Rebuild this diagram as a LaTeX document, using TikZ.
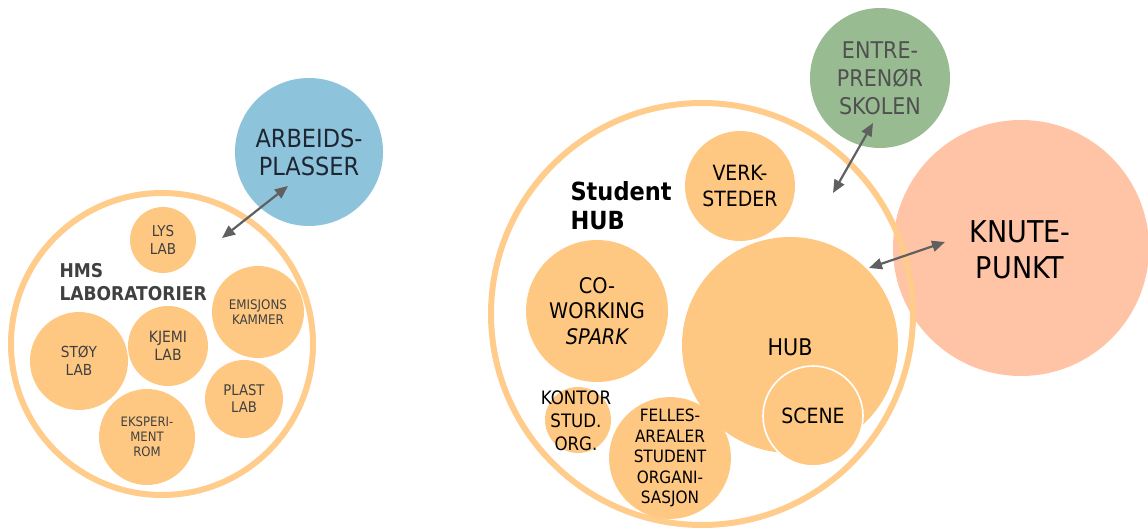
\documentclass[tikz,border=0pt]{standalone}
\usepackage{fontspec}
\setmainfont{DejaVu Sans Condensed}
\usetikzlibrary{arrows.meta}
\definecolor{orng}{RGB}{255,200,130}
\definecolor{ringc}{RGB}{255,204,140}
\definecolor{bluec}{RGB}{142,196,219}
\definecolor{greenc}{RGB}{152,187,146}
\definecolor{salmon}{RGB}{255,196,166}
\definecolor{arrc}{RGB}{96,96,96}
\definecolor{hmstxt}{RGB}{64,64,64}
\definecolor{navytxt}{RGB}{31,38,51}
\definecolor{grntxt}{RGB}{80,80,80}
\newcommand{\fs}[2]{\fontsize{#1}{#2}\selectfont}
\begin{document}
\begin{tikzpicture}[x=1pt,y=-1pt,
  bub/.style={circle, fill=orng, inner sep=0pt, minimum size=#1, align=center},
  ringnode/.style={circle, draw=ringc, line width=6pt, inner sep=0pt, minimum size=#1},
  hmst/.style={text=hmstxt},
  link/.style={draw=arrc, line width=2.2pt, {Triangle[length=13pt,width=11pt]}-{Triangle[length=13pt,width=11pt]}}
]
\useasboundingbox (0,0) rectangle (1148,529);

% ---------- left group ----------
\node[circle, fill=bluec, inner sep=0pt, minimum size=148pt, align=center, text=navytxt,
      font=\fs{25}{28}] (arb) at (309,152) {ARBEIDS-\\PLASSER};
\node[ringnode=302pt] (hms) at (162,344) {};
\node[anchor=west, align=left, text=hmstxt, font=\bfseries\fs{19}{23}] (hmslbl) at (56,282) {HMS\\LABORATORIER};
\node[bub=66pt, hmst, font=\fs{15}{18}] (lys) at (163,240) {LYS\\LAB};
\node[bub=92pt, hmst, font=\fs{13.2}{15}] (emi) at (258,312) {EMISJONS\\KAMMER};
\node[bub=98pt, hmst, font=\fs{15.2}{18}] (stoy) at (79,361) {STØY\\LAB};
\node[bub=80pt, hmst, font=\fs{15.5}{18}] (kjemi) at (168,346) {KJEMI\\LAB};
\node[bub=78pt, hmst, font=\fs{14.7}{17}] (plast) at (244,399) {PLAST\\LAB};
\node[bub=96pt, hmst, font=\fs{13}{15}] (eksp) at (147,437) {EKSPERI-\\MENT\\ROM};

\coordinate (a1s) at (222,238);
\coordinate (a1e) at (288,186);
\draw[link] (a1s) -- (a1e);

% ---------- right group ----------
\node[circle, fill=salmon, inner sep=0pt, minimum size=256pt] (knute) at (1021,248) {};
\node[align=center, font=\fs{30}{36}] (knutetxt) at (1020,250) {KNUTE-\\PUNKT};
\node[circle, fill=greenc, inner sep=0pt, minimum size=140pt, align=center, text=grntxt,
      font=\fs{23}{28}] (entre) at (880,78) {ENTRE-\\PRENØR\\SKOLEN};
\node[ringnode=422pt] (shub) at (702,314) {};
\node[anchor=west, align=left, font=\bfseries\fs{25}{29}] (shublbl) at (567,206) {Student\\HUB};
\node[bub=110pt, font=\fs{21}{26}] (verk) at (740,186) {VERK-\\STEDER};
\node[bub=142pt, font=\fs{21.5}{25.5}] (cow) at (597,311) {CO-\\WORKING\\\itshape SPARK};
\node[bub=216pt] (hub) at (790,345) {};
\node[font=\fs{23}{28}] (hubtxt) at (790,347) {HUB};
\node[bub=100pt, draw=white, line width=1.6pt, font=\fs{21}{26}] (scene) at (813,416) {SCENE};
\node[bub=66pt] (kontor) at (578,420) {};
\node[align=center, font=\fs{18.5}{23}] (kontortxt) at (576,421) {KONTOR\\STUD.\\ORG.};
\node[bub=112pt, font=\fs{17}{20.5}] (felles) at (670,458) {FELLES-\\AREALER\\STUDENT\\ORGANI-\\SASJON};

\coordinate (a2s) at (833,193);
\coordinate (a2e) at (873,123);
\draw[link] (a2s) -- (a2e);
\coordinate (a3s) at (869,268);
\coordinate (a3e) at (945,242);
\draw[link] (a3s) -- (a3e);
\end{tikzpicture}
\end{document}
